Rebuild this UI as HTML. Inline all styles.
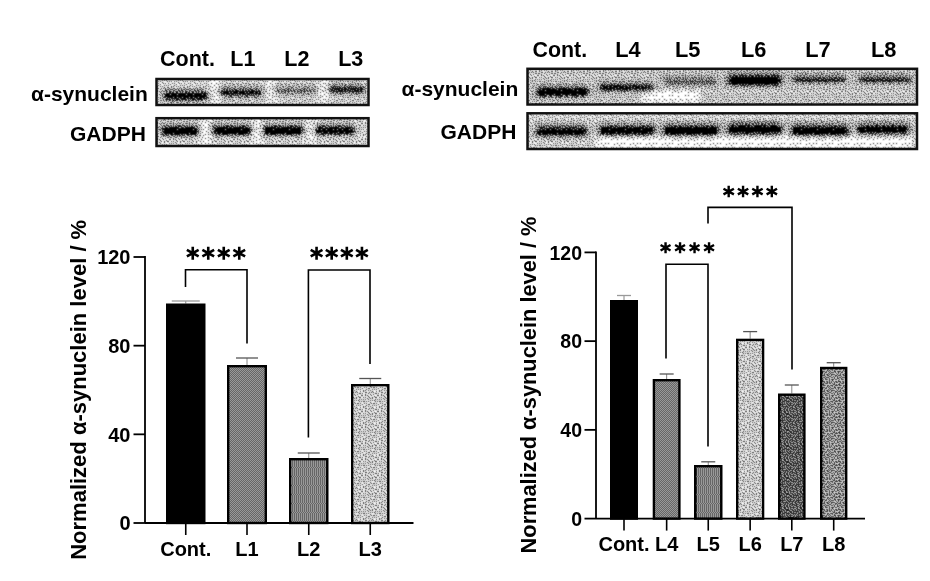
<!DOCTYPE html>
<html><head><meta charset="utf-8"><style>
html,body{margin:0;padding:0;background:#fff;width:930px;height:581px;overflow:hidden}
svg{display:block;font-family:'Liberation Sans',sans-serif;font-weight:bold;will-change:transform}
</style></head><body>
<svg width="930" height="581" viewBox="0 0 930 581">
<defs><pattern id="diag50" width="2" height="2" patternUnits="userSpaceOnUse"><rect width="2" height="2" fill="#fff"/><path d="M0 0h1v1h-1zM1 1h1v1h-1z" fill="#000"/></pattern><pattern id="diag40" width="4" height="4" patternUnits="userSpaceOnUse"><rect width="4" height="4" fill="#fff"/><path d="M0 0h1v1h-1zM1 0h1v1h-1zM2 1h1v1h-1zM3 1h1v1h-1zM0 2h1v1h-1zM1 2h1v1h-1zM2 3h1v1h-1zM3 3h1v1h-1z" fill="#000"/></pattern><pattern id="diag60" width="3" height="3" patternUnits="userSpaceOnUse"><rect width="3" height="3" fill="#fff"/><path d="M0 0h1v1h-1zM1 0h1v1h-1zM1 1h1v1h-1zM2 1h1v1h-1zM0 2h1v1h-1zM2 2h1v1h-1z" fill="#000"/></pattern><pattern id="dots25" width="2" height="2" patternUnits="userSpaceOnUse"><rect width="2" height="2" fill="#fff"/><path d="M0 0h1v1h-1z" fill="#000"/></pattern><pattern id="blotdots" width="8" height="8" patternUnits="userSpaceOnUse"><rect width="8" height="8" fill="#fff"/><path d="M1 0h1v1h-1zM5 0h1v1h-1zM6 0h1v1h-1zM4 1h1v1h-1zM5 1h1v1h-1zM0 2h1v1h-1zM1 2h1v1h-1zM3 2h1v1h-1zM4 2h1v1h-1zM6 2h1v1h-1zM7 2h1v1h-1zM3 3h1v1h-1zM6 3h1v1h-1zM7 3h1v1h-1zM0 4h1v1h-1zM3 4h1v1h-1zM7 4h1v1h-1zM6 5h1v1h-1zM4 6h1v1h-1zM6 6h1v1h-1zM7 6h1v1h-1zM1 7h1v1h-1zM5 7h1v1h-1zM7 7h1v1h-1z" fill="#000"/></pattern><pattern id="vstr" width="2" height="9" patternUnits="userSpaceOnUse"><rect width="2" height="9" fill="#fff"/><path d="M0 0h1v1h-1zM0 1h1v1h-1zM0 2h1v1h-1zM0 3h1v1h-1zM0 4h1v1h-1zM0 5h1v1h-1zM0 6h1v1h-1zM0 7h1v1h-1zM1 8h1v1h-1z" fill="#000"/></pattern><pattern id="bn" width="16" height="16" patternUnits="userSpaceOnUse"><rect x="0" y="0" width="1" height="1" fill="rgb(100,100,100)"/><rect x="1" y="0" width="1" height="1" fill="rgb(150,150,150)"/><rect x="2" y="0" width="1" height="1" fill="rgb(234,234,234)"/><rect x="3" y="0" width="1" height="1" fill="rgb(82,82,82)"/><rect x="4" y="0" width="1" height="1" fill="rgb(218,218,218)"/><rect x="5" y="0" width="1" height="1" fill="rgb(64,64,64)"/><rect x="6" y="0" width="1" height="1" fill="rgb(248,248,248)"/><rect x="7" y="0" width="1" height="1" fill="rgb(140,140,140)"/><rect x="8" y="0" width="1" height="1" fill="rgb(52,52,52)"/><rect x="9" y="0" width="1" height="1" fill="rgb(98,98,98)"/><rect x="10" y="0" width="1" height="1" fill="rgb(68,68,68)"/><rect x="11" y="0" width="1" height="1" fill="rgb(34,34,34)"/><rect x="12" y="0" width="1" height="1" fill="rgb(122,122,122)"/><rect x="13" y="0" width="1" height="1" fill="rgb(58,58,58)"/><rect x="14" y="0" width="1" height="1" fill="rgb(134,134,134)"/><rect x="15" y="0" width="1" height="1" fill="rgb(36,36,36)"/><rect x="0" y="1" width="1" height="1" fill="rgb(226,226,226)"/><rect x="1" y="1" width="1" height="1" fill="rgb(2,2,2)"/><rect x="2" y="1" width="1" height="1" fill="rgb(114,114,114)"/><rect x="3" y="1" width="1" height="1" fill="rgb(140,140,140)"/><rect x="4" y="1" width="1" height="1" fill="rgb(190,190,190)"/><rect x="5" y="1" width="1" height="1" fill="rgb(166,166,166)"/><rect x="6" y="1" width="1" height="1" fill="rgb(6,6,6)"/><rect x="7" y="1" width="1" height="1" fill="rgb(212,212,212)"/><rect x="8" y="1" width="1" height="1" fill="rgb(178,178,178)"/><rect x="9" y="1" width="1" height="1" fill="rgb(220,220,220)"/><rect x="10" y="1" width="1" height="1" fill="rgb(136,136,136)"/><rect x="11" y="1" width="1" height="1" fill="rgb(238,238,238)"/><rect x="12" y="1" width="1" height="1" fill="rgb(196,196,196)"/><rect x="13" y="1" width="1" height="1" fill="rgb(10,10,10)"/><rect x="14" y="1" width="1" height="1" fill="rgb(216,216,216)"/><rect x="15" y="1" width="1" height="1" fill="rgb(168,168,168)"/><rect x="0" y="2" width="1" height="1" fill="rgb(186,186,186)"/><rect x="1" y="2" width="1" height="1" fill="rgb(52,52,52)"/><rect x="2" y="2" width="1" height="1" fill="rgb(212,212,212)"/><rect x="3" y="2" width="1" height="1" fill="rgb(28,28,28)"/><rect x="4" y="2" width="1" height="1" fill="rgb(102,102,102)"/><rect x="5" y="2" width="1" height="1" fill="rgb(44,44,44)"/><rect x="6" y="2" width="1" height="1" fill="rgb(120,120,120)"/><rect x="7" y="2" width="1" height="1" fill="rgb(80,80,80)"/><rect x="8" y="2" width="1" height="1" fill="rgb(38,38,38)"/><rect x="9" y="2" width="1" height="1" fill="rgb(118,118,118)"/><rect x="10" y="2" width="1" height="1" fill="rgb(18,18,18)"/><rect x="11" y="2" width="1" height="1" fill="rgb(174,174,174)"/><rect x="12" y="2" width="1" height="1" fill="rgb(84,84,84)"/><rect x="13" y="2" width="1" height="1" fill="rgb(150,150,150)"/><rect x="14" y="2" width="1" height="1" fill="rgb(110,110,110)"/><rect x="15" y="2" width="1" height="1" fill="rgb(70,70,70)"/><rect x="0" y="3" width="1" height="1" fill="rgb(130,130,130)"/><rect x="1" y="3" width="1" height="1" fill="rgb(90,90,90)"/><rect x="2" y="3" width="1" height="1" fill="rgb(154,154,154)"/><rect x="3" y="3" width="1" height="1" fill="rgb(252,252,252)"/><rect x="4" y="3" width="1" height="1" fill="rgb(72,72,72)"/><rect x="5" y="3" width="1" height="1" fill="rgb(228,228,228)"/><rect x="6" y="3" width="1" height="1" fill="rgb(198,198,198)"/><rect x="7" y="3" width="1" height="1" fill="rgb(146,146,146)"/><rect x="8" y="3" width="1" height="1" fill="rgb(254,254,254)"/><rect x="9" y="3" width="1" height="1" fill="rgb(92,92,92)"/><rect x="10" y="3" width="1" height="1" fill="rgb(158,158,158)"/><rect x="11" y="3" width="1" height="1" fill="rgb(60,60,60)"/><rect x="12" y="3" width="1" height="1" fill="rgb(222,222,222)"/><rect x="13" y="3" width="1" height="1" fill="rgb(44,44,44)"/><rect x="14" y="3" width="1" height="1" fill="rgb(250,250,250)"/><rect x="15" y="3" width="1" height="1" fill="rgb(22,22,22)"/><rect x="0" y="4" width="1" height="1" fill="rgb(240,240,240)"/><rect x="1" y="4" width="1" height="1" fill="rgb(200,200,200)"/><rect x="2" y="4" width="1" height="1" fill="rgb(16,16,16)"/><rect x="3" y="4" width="1" height="1" fill="rgb(174,174,174)"/><rect x="4" y="4" width="1" height="1" fill="rgb(134,134,134)"/><rect x="5" y="4" width="1" height="1" fill="rgb(24,24,24)"/><rect x="6" y="4" width="1" height="1" fill="rgb(162,162,162)"/><rect x="7" y="4" width="1" height="1" fill="rgb(58,58,58)"/><rect x="8" y="4" width="1" height="1" fill="rgb(10,10,10)"/><rect x="9" y="4" width="1" height="1" fill="rgb(192,192,192)"/><rect x="10" y="4" width="1" height="1" fill="rgb(232,232,232)"/><rect x="11" y="4" width="1" height="1" fill="rgb(26,26,26)"/><rect x="12" y="4" width="1" height="1" fill="rgb(126,126,126)"/><rect x="13" y="4" width="1" height="1" fill="rgb(186,186,186)"/><rect x="14" y="4" width="1" height="1" fill="rgb(94,94,94)"/><rect x="15" y="4" width="1" height="1" fill="rgb(160,160,160)"/><rect x="0" y="5" width="1" height="1" fill="rgb(40,40,40)"/><rect x="1" y="5" width="1" height="1" fill="rgb(78,78,78)"/><rect x="2" y="5" width="1" height="1" fill="rgb(112,112,112)"/><rect x="3" y="5" width="1" height="1" fill="rgb(56,56,56)"/><rect x="4" y="5" width="1" height="1" fill="rgb(208,208,208)"/><rect x="5" y="5" width="1" height="1" fill="rgb(96,96,96)"/><rect x="6" y="5" width="1" height="1" fill="rgb(236,236,236)"/><rect x="7" y="5" width="1" height="1" fill="rgb(110,110,110)"/><rect x="8" y="5" width="1" height="1" fill="rgb(216,216,216)"/><rect x="9" y="5" width="1" height="1" fill="rgb(130,130,130)"/><rect x="10" y="5" width="1" height="1" fill="rgb(72,72,72)"/><rect x="11" y="5" width="1" height="1" fill="rgb(106,106,106)"/><rect x="12" y="5" width="1" height="1" fill="rgb(164,164,164)"/><rect x="13" y="5" width="1" height="1" fill="rgb(4,4,4)"/><rect x="14" y="5" width="1" height="1" fill="rgb(204,204,204)"/><rect x="15" y="5" width="1" height="1" fill="rgb(62,62,62)"/><rect x="0" y="6" width="1" height="1" fill="rgb(222,222,222)"/><rect x="1" y="6" width="1" height="1" fill="rgb(182,182,182)"/><rect x="2" y="6" width="1" height="1" fill="rgb(232,232,232)"/><rect x="3" y="6" width="1" height="1" fill="rgb(126,126,126)"/><rect x="4" y="6" width="1" height="1" fill="rgb(4,4,4)"/><rect x="5" y="6" width="1" height="1" fill="rgb(180,180,180)"/><rect x="6" y="6" width="1" height="1" fill="rgb(74,74,74)"/><rect x="7" y="6" width="1" height="1" fill="rgb(32,32,32)"/><rect x="8" y="6" width="1" height="1" fill="rgb(154,154,154)"/><rect x="9" y="6" width="1" height="1" fill="rgb(46,46,46)"/><rect x="10" y="6" width="1" height="1" fill="rgb(180,180,180)"/><rect x="11" y="6" width="1" height="1" fill="rgb(208,208,208)"/><rect x="12" y="6" width="1" height="1" fill="rgb(54,54,54)"/><rect x="13" y="6" width="1" height="1" fill="rgb(236,236,236)"/><rect x="14" y="6" width="1" height="1" fill="rgb(118,118,118)"/><rect x="15" y="6" width="1" height="1" fill="rgb(144,144,144)"/><rect x="0" y="7" width="1" height="1" fill="rgb(14,14,14)"/><rect x="1" y="7" width="1" height="1" fill="rgb(102,102,102)"/><rect x="2" y="7" width="1" height="1" fill="rgb(32,32,32)"/><rect x="3" y="7" width="1" height="1" fill="rgb(152,152,152)"/><rect x="4" y="7" width="1" height="1" fill="rgb(248,248,248)"/><rect x="5" y="7" width="1" height="1" fill="rgb(48,48,48)"/><rect x="6" y="7" width="1" height="1" fill="rgb(142,142,142)"/><rect x="7" y="7" width="1" height="1" fill="rgb(192,192,192)"/><rect x="8" y="7" width="1" height="1" fill="rgb(242,242,242)"/><rect x="9" y="7" width="1" height="1" fill="rgb(86,86,86)"/><rect x="10" y="7" width="1" height="1" fill="rgb(14,14,14)"/><rect x="11" y="7" width="1" height="1" fill="rgb(250,250,250)"/><rect x="12" y="7" width="1" height="1" fill="rgb(142,142,142)"/><rect x="13" y="7" width="1" height="1" fill="rgb(76,76,76)"/><rect x="14" y="7" width="1" height="1" fill="rgb(30,30,30)"/><rect x="15" y="7" width="1" height="1" fill="rgb(170,170,170)"/><rect x="0" y="8" width="1" height="1" fill="rgb(132,132,132)"/><rect x="1" y="8" width="1" height="1" fill="rgb(210,210,210)"/><rect x="2" y="8" width="1" height="1" fill="rgb(68,68,68)"/><rect x="3" y="8" width="1" height="1" fill="rgb(196,196,196)"/><rect x="4" y="8" width="1" height="1" fill="rgb(86,86,86)"/><rect x="5" y="8" width="1" height="1" fill="rgb(214,214,214)"/><rect x="6" y="8" width="1" height="1" fill="rgb(120,120,120)"/><rect x="7" y="8" width="1" height="1" fill="rgb(8,8,8)"/><rect x="8" y="8" width="1" height="1" fill="rgb(104,104,104)"/><rect x="9" y="8" width="1" height="1" fill="rgb(166,166,166)"/><rect x="10" y="8" width="1" height="1" fill="rgb(124,124,124)"/><rect x="11" y="8" width="1" height="1" fill="rgb(38,38,38)"/><rect x="12" y="8" width="1" height="1" fill="rgb(98,98,98)"/><rect x="13" y="8" width="1" height="1" fill="rgb(198,198,198)"/><rect x="14" y="8" width="1" height="1" fill="rgb(228,228,228)"/><rect x="15" y="8" width="1" height="1" fill="rgb(88,88,88)"/><rect x="0" y="9" width="1" height="1" fill="rgb(252,252,252)"/><rect x="1" y="9" width="1" height="1" fill="rgb(50,50,50)"/><rect x="2" y="9" width="1" height="1" fill="rgb(164,164,164)"/><rect x="3" y="9" width="1" height="1" fill="rgb(108,108,108)"/><rect x="4" y="9" width="1" height="1" fill="rgb(20,20,20)"/><rect x="5" y="9" width="1" height="1" fill="rgb(172,172,172)"/><rect x="6" y="9" width="1" height="1" fill="rgb(66,66,66)"/><rect x="7" y="9" width="1" height="1" fill="rgb(224,224,224)"/><rect x="8" y="9" width="1" height="1" fill="rgb(200,200,200)"/><rect x="9" y="9" width="1" height="1" fill="rgb(54,54,54)"/><rect x="10" y="9" width="1" height="1" fill="rgb(230,230,230)"/><rect x="11" y="9" width="1" height="1" fill="rgb(190,190,190)"/><rect x="12" y="9" width="1" height="1" fill="rgb(156,156,156)"/><rect x="13" y="9" width="1" height="1" fill="rgb(8,8,8)"/><rect x="14" y="9" width="1" height="1" fill="rgb(60,60,60)"/><rect x="15" y="9" width="1" height="1" fill="rgb(176,176,176)"/><rect x="0" y="10" width="1" height="1" fill="rgb(114,114,114)"/><rect x="1" y="10" width="1" height="1" fill="rgb(0,0,0)"/><rect x="2" y="10" width="1" height="1" fill="rgb(220,220,220)"/><rect x="3" y="10" width="1" height="1" fill="rgb(138,138,138)"/><rect x="4" y="10" width="1" height="1" fill="rgb(40,40,40)"/><rect x="5" y="10" width="1" height="1" fill="rgb(230,230,230)"/><rect x="6" y="10" width="1" height="1" fill="rgb(156,156,156)"/><rect x="7" y="10" width="1" height="1" fill="rgb(30,30,30)"/><rect x="8" y="10" width="1" height="1" fill="rgb(82,82,82)"/><rect x="9" y="10" width="1" height="1" fill="rgb(146,146,146)"/><rect x="10" y="10" width="1" height="1" fill="rgb(20,20,20)"/><rect x="11" y="10" width="1" height="1" fill="rgb(74,74,74)"/><rect x="12" y="10" width="1" height="1" fill="rgb(112,112,112)"/><rect x="13" y="10" width="1" height="1" fill="rgb(244,244,244)"/><rect x="14" y="10" width="1" height="1" fill="rgb(138,138,138)"/><rect x="15" y="10" width="1" height="1" fill="rgb(36,36,36)"/><rect x="0" y="11" width="1" height="1" fill="rgb(148,148,148)"/><rect x="1" y="11" width="1" height="1" fill="rgb(182,182,182)"/><rect x="2" y="11" width="1" height="1" fill="rgb(78,78,78)"/><rect x="3" y="11" width="1" height="1" fill="rgb(246,246,246)"/><rect x="4" y="11" width="1" height="1" fill="rgb(188,188,188)"/><rect x="5" y="11" width="1" height="1" fill="rgb(88,88,88)"/><rect x="6" y="11" width="1" height="1" fill="rgb(124,124,124)"/><rect x="7" y="11" width="1" height="1" fill="rgb(184,184,184)"/><rect x="8" y="11" width="1" height="1" fill="rgb(108,108,108)"/><rect x="9" y="11" width="1" height="1" fill="rgb(254,254,254)"/><rect x="10" y="11" width="1" height="1" fill="rgb(206,206,206)"/><rect x="11" y="11" width="1" height="1" fill="rgb(168,168,168)"/><rect x="12" y="11" width="1" height="1" fill="rgb(48,48,48)"/><rect x="13" y="11" width="1" height="1" fill="rgb(214,214,214)"/><rect x="14" y="11" width="1" height="1" fill="rgb(90,90,90)"/><rect x="15" y="11" width="1" height="1" fill="rgb(202,202,202)"/><rect x="0" y="12" width="1" height="1" fill="rgb(240,240,240)"/><rect x="1" y="12" width="1" height="1" fill="rgb(100,100,100)"/><rect x="2" y="12" width="1" height="1" fill="rgb(26,26,26)"/><rect x="3" y="12" width="1" height="1" fill="rgb(56,56,56)"/><rect x="4" y="12" width="1" height="1" fill="rgb(116,116,116)"/><rect x="5" y="12" width="1" height="1" fill="rgb(6,6,6)"/><rect x="6" y="12" width="1" height="1" fill="rgb(242,242,242)"/><rect x="7" y="12" width="1" height="1" fill="rgb(50,50,50)"/><rect x="8" y="12" width="1" height="1" fill="rgb(16,16,16)"/><rect x="9" y="12" width="1" height="1" fill="rgb(136,136,136)"/><rect x="10" y="12" width="1" height="1" fill="rgb(92,92,92)"/><rect x="11" y="12" width="1" height="1" fill="rgb(28,28,28)"/><rect x="12" y="12" width="1" height="1" fill="rgb(128,128,128)"/><rect x="13" y="12" width="1" height="1" fill="rgb(178,178,178)"/><rect x="14" y="12" width="1" height="1" fill="rgb(12,12,12)"/><rect x="15" y="12" width="1" height="1" fill="rgb(66,66,66)"/><rect x="0" y="13" width="1" height="1" fill="rgb(46,46,46)"/><rect x="1" y="13" width="1" height="1" fill="rgb(218,218,218)"/><rect x="2" y="13" width="1" height="1" fill="rgb(132,132,132)"/><rect x="3" y="13" width="1" height="1" fill="rgb(158,158,158)"/><rect x="4" y="13" width="1" height="1" fill="rgb(210,210,210)"/><rect x="5" y="13" width="1" height="1" fill="rgb(70,70,70)"/><rect x="6" y="13" width="1" height="1" fill="rgb(148,148,148)"/><rect x="7" y="13" width="1" height="1" fill="rgb(202,202,202)"/><rect x="8" y="13" width="1" height="1" fill="rgb(224,224,224)"/><rect x="9" y="13" width="1" height="1" fill="rgb(62,62,62)"/><rect x="10" y="13" width="1" height="1" fill="rgb(188,188,188)"/><rect x="11" y="13" width="1" height="1" fill="rgb(234,234,234)"/><rect x="12" y="13" width="1" height="1" fill="rgb(76,76,76)"/><rect x="13" y="13" width="1" height="1" fill="rgb(226,226,226)"/><rect x="14" y="13" width="1" height="1" fill="rgb(106,106,106)"/><rect x="15" y="13" width="1" height="1" fill="rgb(162,162,162)"/><rect x="0" y="14" width="1" height="1" fill="rgb(122,122,122)"/><rect x="1" y="14" width="1" height="1" fill="rgb(12,12,12)"/><rect x="2" y="14" width="1" height="1" fill="rgb(194,194,194)"/><rect x="3" y="14" width="1" height="1" fill="rgb(94,94,94)"/><rect x="4" y="14" width="1" height="1" fill="rgb(238,238,238)"/><rect x="5" y="14" width="1" height="1" fill="rgb(176,176,176)"/><rect x="6" y="14" width="1" height="1" fill="rgb(34,34,34)"/><rect x="7" y="14" width="1" height="1" fill="rgb(84,84,84)"/><rect x="8" y="14" width="1" height="1" fill="rgb(160,160,160)"/><rect x="9" y="14" width="1" height="1" fill="rgb(116,116,116)"/><rect x="10" y="14" width="1" height="1" fill="rgb(2,2,2)"/><rect x="11" y="14" width="1" height="1" fill="rgb(144,144,144)"/><rect x="12" y="14" width="1" height="1" fill="rgb(42,42,42)"/><rect x="13" y="14" width="1" height="1" fill="rgb(152,152,152)"/><rect x="14" y="14" width="1" height="1" fill="rgb(22,22,22)"/><rect x="15" y="14" width="1" height="1" fill="rgb(204,204,204)"/><rect x="0" y="15" width="1" height="1" fill="rgb(256,256,256)"/><rect x="1" y="15" width="1" height="1" fill="rgb(64,64,64)"/><rect x="2" y="15" width="1" height="1" fill="rgb(172,172,172)"/><rect x="3" y="15" width="1" height="1" fill="rgb(42,42,42)"/><rect x="4" y="15" width="1" height="1" fill="rgb(18,18,18)"/><rect x="5" y="15" width="1" height="1" fill="rgb(128,128,128)"/><rect x="6" y="15" width="1" height="1" fill="rgb(104,104,104)"/><rect x="7" y="15" width="1" height="1" fill="rgb(194,194,194)"/><rect x="8" y="15" width="1" height="1" fill="rgb(24,24,24)"/><rect x="9" y="15" width="1" height="1" fill="rgb(244,244,244)"/><rect x="10" y="15" width="1" height="1" fill="rgb(170,170,170)"/><rect x="11" y="15" width="1" height="1" fill="rgb(206,206,206)"/><rect x="12" y="15" width="1" height="1" fill="rgb(96,96,96)"/><rect x="13" y="15" width="1" height="1" fill="rgb(246,246,246)"/><rect x="14" y="15" width="1" height="1" fill="rgb(184,184,184)"/><rect x="15" y="15" width="1" height="1" fill="rgb(80,80,80)"/></pattern><rect id="bnrect" x="0" y="0" width="930" height="581" fill="url(#bn)"/><pattern id="bay" width="8" height="8" patternUnits="userSpaceOnUse"><rect x="0" y="0" width="1" height="1" fill="rgb(2,2,2)"/><rect x="1" y="0" width="1" height="1" fill="rgb(130,130,130)"/><rect x="2" y="0" width="1" height="1" fill="rgb(34,34,34)"/><rect x="3" y="0" width="1" height="1" fill="rgb(162,162,162)"/><rect x="4" y="0" width="1" height="1" fill="rgb(10,10,10)"/><rect x="5" y="0" width="1" height="1" fill="rgb(138,138,138)"/><rect x="6" y="0" width="1" height="1" fill="rgb(42,42,42)"/><rect x="7" y="0" width="1" height="1" fill="rgb(170,170,170)"/><rect x="0" y="1" width="1" height="1" fill="rgb(194,194,194)"/><rect x="1" y="1" width="1" height="1" fill="rgb(66,66,66)"/><rect x="2" y="1" width="1" height="1" fill="rgb(226,226,226)"/><rect x="3" y="1" width="1" height="1" fill="rgb(98,98,98)"/><rect x="4" y="1" width="1" height="1" fill="rgb(202,202,202)"/><rect x="5" y="1" width="1" height="1" fill="rgb(74,74,74)"/><rect x="6" y="1" width="1" height="1" fill="rgb(234,234,234)"/><rect x="7" y="1" width="1" height="1" fill="rgb(106,106,106)"/><rect x="0" y="2" width="1" height="1" fill="rgb(50,50,50)"/><rect x="1" y="2" width="1" height="1" fill="rgb(178,178,178)"/><rect x="2" y="2" width="1" height="1" fill="rgb(18,18,18)"/><rect x="3" y="2" width="1" height="1" fill="rgb(146,146,146)"/><rect x="4" y="2" width="1" height="1" fill="rgb(58,58,58)"/><rect x="5" y="2" width="1" height="1" fill="rgb(186,186,186)"/><rect x="6" y="2" width="1" height="1" fill="rgb(26,26,26)"/><rect x="7" y="2" width="1" height="1" fill="rgb(154,154,154)"/><rect x="0" y="3" width="1" height="1" fill="rgb(242,242,242)"/><rect x="1" y="3" width="1" height="1" fill="rgb(114,114,114)"/><rect x="2" y="3" width="1" height="1" fill="rgb(210,210,210)"/><rect x="3" y="3" width="1" height="1" fill="rgb(82,82,82)"/><rect x="4" y="3" width="1" height="1" fill="rgb(250,250,250)"/><rect x="5" y="3" width="1" height="1" fill="rgb(122,122,122)"/><rect x="6" y="3" width="1" height="1" fill="rgb(218,218,218)"/><rect x="7" y="3" width="1" height="1" fill="rgb(90,90,90)"/><rect x="0" y="4" width="1" height="1" fill="rgb(14,14,14)"/><rect x="1" y="4" width="1" height="1" fill="rgb(142,142,142)"/><rect x="2" y="4" width="1" height="1" fill="rgb(46,46,46)"/><rect x="3" y="4" width="1" height="1" fill="rgb(174,174,174)"/><rect x="4" y="4" width="1" height="1" fill="rgb(6,6,6)"/><rect x="5" y="4" width="1" height="1" fill="rgb(134,134,134)"/><rect x="6" y="4" width="1" height="1" fill="rgb(38,38,38)"/><rect x="7" y="4" width="1" height="1" fill="rgb(166,166,166)"/><rect x="0" y="5" width="1" height="1" fill="rgb(206,206,206)"/><rect x="1" y="5" width="1" height="1" fill="rgb(78,78,78)"/><rect x="2" y="5" width="1" height="1" fill="rgb(238,238,238)"/><rect x="3" y="5" width="1" height="1" fill="rgb(110,110,110)"/><rect x="4" y="5" width="1" height="1" fill="rgb(198,198,198)"/><rect x="5" y="5" width="1" height="1" fill="rgb(70,70,70)"/><rect x="6" y="5" width="1" height="1" fill="rgb(230,230,230)"/><rect x="7" y="5" width="1" height="1" fill="rgb(102,102,102)"/><rect x="0" y="6" width="1" height="1" fill="rgb(62,62,62)"/><rect x="1" y="6" width="1" height="1" fill="rgb(190,190,190)"/><rect x="2" y="6" width="1" height="1" fill="rgb(30,30,30)"/><rect x="3" y="6" width="1" height="1" fill="rgb(158,158,158)"/><rect x="4" y="6" width="1" height="1" fill="rgb(54,54,54)"/><rect x="5" y="6" width="1" height="1" fill="rgb(182,182,182)"/><rect x="6" y="6" width="1" height="1" fill="rgb(22,22,22)"/><rect x="7" y="6" width="1" height="1" fill="rgb(150,150,150)"/><rect x="0" y="7" width="1" height="1" fill="rgb(254,254,254)"/><rect x="1" y="7" width="1" height="1" fill="rgb(126,126,126)"/><rect x="2" y="7" width="1" height="1" fill="rgb(222,222,222)"/><rect x="3" y="7" width="1" height="1" fill="rgb(94,94,94)"/><rect x="4" y="7" width="1" height="1" fill="rgb(246,246,246)"/><rect x="5" y="7" width="1" height="1" fill="rgb(118,118,118)"/><rect x="6" y="7" width="1" height="1" fill="rgb(214,214,214)"/><rect x="7" y="7" width="1" height="1" fill="rgb(86,86,86)"/></pattern><rect id="bayrect" x="0" y="0" width="930" height="581" fill="url(#bay)"/>
<filter id="soft" x="0" y="0" width="100%" height="100%" color-interpolation-filters="sRGB"><feConvolveMatrix order="3" kernelMatrix="0.5 1 0.5  1 4 1  0.5 1 0.5" divisor="10" edgeMode="duplicate" preserveAlpha="true"/></filter><filter id="blur" x="-30%" y="-150%" width="160%" height="400%"><feGaussianBlur stdDeviation="1.6 1.0"/></filter><filter id="blur2" x="-50%" y="-100%" width="200%" height="300%"><feGaussianBlur stdDeviation="3 2"/></filter>
<filter id="dith" x="0" y="0" width="100%" height="100%" color-interpolation-filters="sRGB">
  <feImage href="#bnrect" x="0" y="0" width="930" height="581" result="t"/>
  <feColorMatrix in="t" type="matrix" values="0 0 0 0 0  0 0 0 0 0  0 0 0 0 0  1 0 0 0 0" result="ta"/>
  <feColorMatrix in="SourceGraphic" type="matrix" values="0 0 0 0 0  0 0 0 0 0  0 0 0 0 0  0.333 0.333 0.334 0 0" result="sa"/>
  <feComposite in="sa" in2="ta" operator="arithmetic" k1="0" k2="1" k3="-1" k4="0.5" result="sum"/>
  <feComponentTransfer in="sum" result="th"><feFuncA type="discrete" tableValues="0 1"/></feComponentTransfer>
  <feFlood flood-color="#fff" result="white"/>
  <feComposite in="white" in2="th" operator="in" result="wt"/>
  <feFlood flood-color="#000" result="black"/>
  <feMerge result="m"><feMergeNode in="black"/><feMergeNode in="wt"/></feMerge>
  <feConvolveMatrix in="m" order="3" kernelMatrix="0.5 1 0.5  1 4 1  0.5 1 0.5" divisor="10" edgeMode="duplicate" preserveAlpha="true"/>
</filter>
<filter id="dithb" x="0" y="0" width="100%" height="100%" color-interpolation-filters="sRGB">
  <feImage href="#bayrect" x="0" y="0" width="930" height="581" result="t"/>
  <feColorMatrix in="t" type="matrix" values="0 0 0 0 0  0 0 0 0 0  0 0 0 0 0  1 0 0 0 0" result="ta"/>
  <feColorMatrix in="SourceGraphic" type="matrix" values="0 0 0 0 0  0 0 0 0 0  0 0 0 0 0  0.333 0.333 0.334 0 0" result="sa"/>
  <feComposite in="sa" in2="ta" operator="arithmetic" k1="0" k2="1" k3="-1" k4="0.5" result="sum"/>
  <feComponentTransfer in="sum" result="th"><feFuncA type="discrete" tableValues="0 1"/></feComponentTransfer>
  <feFlood flood-color="#fff" result="white"/>
  <feComposite in="white" in2="th" operator="in" result="wt"/>
  <feFlood flood-color="#000" result="black"/>
  <feMerge result="m"><feMergeNode in="black"/><feMergeNode in="wt"/></feMerge>
  <feConvolveMatrix in="m" order="3" kernelMatrix="0.5 1 0.5  1 4 1  0.5 1 0.5" divisor="10" edgeMode="duplicate" preserveAlpha="true"/>
</filter>
</defs>
<rect width="930" height="581" fill="#fff"/>
<text x="160" y="66" font-size="21.5" text-anchor="start" >Cont.</text><text x="230.3" y="66" font-size="21.5" text-anchor="start" >L1</text><text x="284.3" y="66" font-size="21.5" text-anchor="start" >L2</text><text x="338.2" y="66" font-size="21.5" text-anchor="start" >L3</text><text x="31" y="101" font-size="21" text-anchor="start" >α-synuclein</text><text x="70" y="141" font-size="21" text-anchor="start" >GADPH</text><g filter="url(#dith)"><rect x="156.5" y="79" width="212.0" height="26" fill="#c4c4c4"/><rect x="211" y="80" width="9" height="24" fill="#fff" fill-opacity="0.7" filter="url(#blur2)"/><rect x="267" y="80" width="9" height="24" fill="#fff" fill-opacity="0.6" filter="url(#blur2)"/><rect x="320" y="80" width="9" height="24" fill="#fff" fill-opacity="0.6" filter="url(#blur2)"/><rect x="157" y="80" width="210" height="4" fill="#fff" fill-opacity="0.3" filter="url(#blur2)"/><rect x="162" y="88.5" width="47" height="13" rx="5" fill="#000" fill-opacity="0.350" filter="url(#blur2)"/><rect x="164" y="92.5" width="43" height="7" rx="3.5" fill="#000" fill-opacity="0.918" filter="url(#blur)"/><rect x="219" y="85.5" width="44" height="12" rx="5" fill="#000" fill-opacity="0.300" filter="url(#blur2)"/><rect x="221" y="89.5" width="40" height="6" rx="3.0" fill="#000" fill-opacity="0.864" filter="url(#blur)"/><rect x="273" y="84.0" width="44" height="11" rx="5" fill="#000" fill-opacity="0.200" filter="url(#blur2)"/><rect x="275" y="88.0" width="40" height="5" rx="2.5" fill="#000" fill-opacity="0.324" filter="url(#blur)"/><rect x="328" y="82.5" width="38" height="12" rx="5" fill="#000" fill-opacity="0.300" filter="url(#blur2)"/><rect x="330" y="86.5" width="34" height="6" rx="3.0" fill="#000" fill-opacity="0.756" filter="url(#blur)"/></g><rect x="156.5" y="79" width="212.0" height="26" fill="none" stroke="#111" stroke-width="2.5"/><g filter="url(#dith)"><rect x="156.5" y="118.2" width="212.0" height="27.799999999999997" fill="#c8c8c8"/><rect x="201" y="120" width="9" height="24" fill="#fff" fill-opacity="0.7" filter="url(#blur2)"/><rect x="253" y="120" width="9" height="24" fill="#fff" fill-opacity="0.6" filter="url(#blur2)"/><rect x="306" y="120" width="9" height="24" fill="#fff" fill-opacity="0.6" filter="url(#blur2)"/><rect x="160" y="123.0" width="40" height="14" rx="5" fill="#000" fill-opacity="0.350" filter="url(#blur2)"/><rect x="162" y="127.0" width="36" height="8" rx="4.0" fill="#000" fill-opacity="0.972" filter="url(#blur)"/><rect x="211" y="122.5" width="41" height="14" rx="5" fill="#000" fill-opacity="0.350" filter="url(#blur2)"/><rect x="213" y="126.5" width="37" height="8" rx="4.0" fill="#000" fill-opacity="0.972" filter="url(#blur)"/><rect x="262" y="122.5" width="42" height="14" rx="5" fill="#000" fill-opacity="0.350" filter="url(#blur2)"/><rect x="264" y="126.5" width="38" height="8" rx="4.0" fill="#000" fill-opacity="0.972" filter="url(#blur)"/><rect x="314" y="123.0" width="42" height="13" rx="5" fill="#000" fill-opacity="0.350" filter="url(#blur2)"/><rect x="316" y="127.0" width="38" height="7" rx="3.5" fill="#000" fill-opacity="0.918" filter="url(#blur)"/></g><rect x="156.5" y="118.2" width="212.0" height="27.799999999999997" fill="none" stroke="#111" stroke-width="2.5"/><text x="532.5" y="57" font-size="21.4" text-anchor="start" >Cont.</text><text x="615.2" y="57" font-size="21.8" text-anchor="start" >L4</text><text x="675" y="57" font-size="21.8" text-anchor="start" >L5</text><text x="741" y="57" font-size="21.8" text-anchor="start" >L6</text><text x="805.3" y="57" font-size="21.8" text-anchor="start" >L7</text><text x="871" y="57" font-size="21.8" text-anchor="start" >L8</text><text x="401.5" y="96" font-size="21" text-anchor="start" >α-synuclein</text><text x="440.5" y="138.5" font-size="21" text-anchor="start" >GADPH</text><g filter="url(#dith)"><rect x="527.5" y="68.8" width="389.5" height="35.7" fill="#bdbdbd"/><rect x="643" y="91" width="58" height="11" fill="#fff" fill-opacity="0.85" filter="url(#blur2)"/><rect x="535" y="84.0" width="55" height="14" rx="5" fill="#000" fill-opacity="0.300" filter="url(#blur2)"/><rect x="537" y="88.0" width="51" height="8" rx="4.0" fill="#000" fill-opacity="0.972" filter="url(#blur)"/><rect x="598" y="81.0" width="57" height="11" rx="5" fill="#000" fill-opacity="0.300" filter="url(#blur2)"/><rect x="600" y="85.0" width="53" height="5" rx="2.5" fill="#000" fill-opacity="0.810" filter="url(#blur)"/><rect x="602" y="86.0" width="26" height="4" rx="2.0" fill="#000" fill-opacity="0.432" filter="url(#blur)"/><rect x="662" y="75.0" width="56" height="11" rx="5" fill="#000" fill-opacity="0.250" filter="url(#blur2)"/><rect x="664" y="79.0" width="52" height="5" rx="2.5" fill="#000" fill-opacity="0.324" filter="url(#blur)"/><rect x="726" y="72.0" width="57" height="15" rx="5" fill="#000" fill-opacity="0.350" filter="url(#blur2)"/><rect x="728" y="76.0" width="53" height="9" rx="4.5" fill="#000" fill-opacity="1.000" filter="url(#blur)"/><rect x="791" y="73.0" width="56" height="11" rx="5" fill="#000" fill-opacity="0.250" filter="url(#blur2)"/><rect x="793" y="77.0" width="52" height="5" rx="2.5" fill="#000" fill-opacity="0.702" filter="url(#blur)"/><rect x="857" y="73.0" width="55" height="11" rx="5" fill="#000" fill-opacity="0.250" filter="url(#blur2)"/><rect x="859" y="77.0" width="51" height="5" rx="2.5" fill="#000" fill-opacity="0.702" filter="url(#blur)"/></g><rect x="527.5" y="68.8" width="389.5" height="35.7" fill="none" stroke="#111" stroke-width="2.5"/><g filter="url(#dith)"><rect x="527.5" y="113.3" width="389.5" height="35.7" fill="#c2c2c2"/><rect x="595" y="137" width="318" height="10" fill="#fff" fill-opacity="0.85" filter="url(#blur2)"/><rect x="530" y="114" width="385" height="4" fill="#fff" fill-opacity="0.4" filter="url(#blur2)"/><rect x="535" y="124.0" width="54" height="13" rx="5" fill="#000" fill-opacity="0.450" filter="url(#blur2)"/><rect x="537" y="128.0" width="50" height="7" rx="3.5" fill="#000" fill-opacity="0.972" filter="url(#blur)"/><rect x="598" y="123.0" width="58" height="13" rx="5" fill="#000" fill-opacity="0.450" filter="url(#blur2)"/><rect x="600" y="127.0" width="54" height="7" rx="3.5" fill="#000" fill-opacity="0.972" filter="url(#blur)"/><rect x="662" y="122.5" width="58" height="14" rx="5" fill="#000" fill-opacity="0.450" filter="url(#blur2)"/><rect x="664" y="126.5" width="54" height="8" rx="4.0" fill="#000" fill-opacity="1.000" filter="url(#blur)"/><rect x="726" y="121.5" width="57" height="14" rx="5" fill="#000" fill-opacity="0.450" filter="url(#blur2)"/><rect x="728" y="125.5" width="53" height="8" rx="4.0" fill="#000" fill-opacity="1.000" filter="url(#blur)"/><rect x="790" y="122.5" width="60" height="14" rx="5" fill="#000" fill-opacity="0.450" filter="url(#blur2)"/><rect x="792" y="126.5" width="56" height="8" rx="4.0" fill="#000" fill-opacity="0.972" filter="url(#blur)"/><rect x="856" y="122.0" width="54" height="13" rx="5" fill="#000" fill-opacity="0.450" filter="url(#blur2)"/><rect x="858" y="126.0" width="50" height="7" rx="3.5" fill="#000" fill-opacity="0.972" filter="url(#blur)"/></g><rect x="527.5" y="113.3" width="389.5" height="35.7" fill="none" stroke="#111" stroke-width="2.5"/><line x1="133.5" y1="523.0" x2="145" y2="523.0" stroke="#000" stroke-width="1.8"/><text x="130.5" y="530.3" font-size="20" text-anchor="end">0</text><line x1="133.5" y1="434.3333333333333" x2="145" y2="434.3333333333333" stroke="#000" stroke-width="1.8"/><text x="130.5" y="441.6333333333333" font-size="20" text-anchor="end">40</text><line x1="133.5" y1="345.66666666666663" x2="145" y2="345.66666666666663" stroke="#000" stroke-width="1.8"/><text x="130.5" y="352.96666666666664" font-size="20" text-anchor="end">80</text><line x1="133.5" y1="257.0" x2="145" y2="257.0" stroke="#000" stroke-width="1.8"/><text x="130.5" y="264.3" font-size="20" text-anchor="end">120</text><line x1="145" y1="256.1" x2="145" y2="523" stroke="#000" stroke-width="1.8"/><line x1="145" y1="523" x2="413.5" y2="523" stroke="#000" stroke-width="1.8"/><line x1="185.75" y1="301" x2="185.75" y2="303.5" stroke="#777" stroke-width="0.9"/><line x1="171.75" y1="301" x2="199.75" y2="301" stroke="#999" stroke-width="1.3"/><rect x="167.2" y="304.7" width="37.1" height="218.3" fill="#000" stroke="#000" stroke-width="2.4"/><line x1="185.75" y1="523" x2="185.75" y2="535" stroke="#000" stroke-width="1.6"/><text x="185.75" y="556" font-size="20" text-anchor="middle">Cont.</text><line x1="247.0" y1="358" x2="247.0" y2="365" stroke="#777" stroke-width="0.9"/><line x1="236.0" y1="358" x2="258.0" y2="358" stroke="#555" stroke-width="1.3"/><g filter="url(#dithb)"><rect x="228.2" y="366.2" width="37.6" height="156.8" fill="#808080"/></g><rect x="228.2" y="366.2" width="37.6" height="156.8" fill="none" stroke="#000" stroke-width="2.4"/><line x1="247.0" y1="523" x2="247.0" y2="535" stroke="#000" stroke-width="1.6"/><text x="247.0" y="556" font-size="20" text-anchor="middle">L1</text><line x1="308.75" y1="453" x2="308.75" y2="458" stroke="#777" stroke-width="0.9"/><line x1="297.75" y1="453" x2="319.75" y2="453" stroke="#555" stroke-width="1.3"/><g filter="url(#soft)"><rect x="290.2" y="459.2" width="37.1" height="63.8" fill="url(#vstr)"/></g><rect x="290.2" y="459.2" width="37.1" height="63.8" fill="none" stroke="#000" stroke-width="2.4"/><line x1="308.75" y1="523" x2="308.75" y2="535" stroke="#000" stroke-width="1.6"/><text x="308.75" y="556" font-size="20" text-anchor="middle">L2</text><line x1="370.25" y1="378.5" x2="370.25" y2="384" stroke="#777" stroke-width="0.9"/><line x1="359.25" y1="378.5" x2="381.25" y2="378.5" stroke="#555" stroke-width="1.3"/><g filter="url(#dith)"><rect x="352.2" y="385.2" width="36.1" height="137.8" fill="#c0c0c0"/></g><rect x="352.2" y="385.2" width="36.1" height="137.8" fill="none" stroke="#000" stroke-width="2.4"/><line x1="370.25" y1="523" x2="370.25" y2="535" stroke="#000" stroke-width="1.6"/><text x="370.25" y="556" font-size="20" text-anchor="middle">L3</text><polyline points="185.5,287 185.5,269.8 247,269.8 247,343.6" fill="none" stroke="#000" stroke-width="1.6"/><path d="M192.75 246.73L192.75 259.67M186.87 249.96L198.63 256.44M186.87 256.44L198.63 249.96" stroke="#000" stroke-width="2.6" fill="none" stroke-linecap="butt"/><path d="M208.25 246.73L208.25 259.67M202.37 249.96L214.13 256.44M202.37 256.44L214.13 249.96" stroke="#000" stroke-width="2.6" fill="none" stroke-linecap="butt"/><path d="M223.75 246.73L223.75 259.67M217.87 249.96L229.63 256.44M217.87 256.44L229.63 249.96" stroke="#000" stroke-width="2.6" fill="none" stroke-linecap="butt"/><path d="M239.25 246.73L239.25 259.67M233.37 249.96L245.13 256.44M233.37 256.44L245.13 249.96" stroke="#000" stroke-width="2.6" fill="none" stroke-linecap="butt"/><polyline points="308.4,437.5 308.4,270 370,270 370,364" fill="none" stroke="#000" stroke-width="1.6"/><path d="M316.56 246.73L316.56 259.67M310.68 249.96L322.45 256.44M310.68 256.44L322.45 249.96" stroke="#000" stroke-width="2.6" fill="none" stroke-linecap="butt"/><path d="M331.69 246.73L331.69 259.67M325.80 249.96L337.57 256.44M325.80 256.44L337.57 249.96" stroke="#000" stroke-width="2.6" fill="none" stroke-linecap="butt"/><path d="M346.81 246.73L346.81 259.67M340.93 249.96L352.70 256.44M340.93 256.44L352.70 249.96" stroke="#000" stroke-width="2.6" fill="none" stroke-linecap="butt"/><path d="M361.94 246.73L361.94 259.67M356.05 249.96L367.82 256.44M356.05 256.44L367.82 249.96" stroke="#000" stroke-width="2.6" fill="none" stroke-linecap="butt"/><text x="0" y="0" font-size="22" text-anchor="middle" transform="translate(86,389.8) rotate(-90)">Normalized α-synuclein level / %</text><line x1="584.5" y1="518.6" x2="596" y2="518.6" stroke="#000" stroke-width="1.8"/><text x="582" y="525.9" font-size="19.5" text-anchor="end">0</text><line x1="584.5" y1="429.8666666666667" x2="596" y2="429.8666666666667" stroke="#000" stroke-width="1.8"/><text x="582" y="437.1666666666667" font-size="19.5" text-anchor="end">40</text><line x1="584.5" y1="341.1333333333333" x2="596" y2="341.1333333333333" stroke="#000" stroke-width="1.8"/><text x="582" y="348.43333333333334" font-size="19.5" text-anchor="end">80</text><line x1="584.5" y1="252.39999999999998" x2="596" y2="252.39999999999998" stroke="#000" stroke-width="1.8"/><text x="582" y="259.7" font-size="19.5" text-anchor="end">120</text><line x1="596" y1="251.5" x2="596" y2="518.6" stroke="#000" stroke-width="1.8"/><line x1="596" y1="518.6" x2="865" y2="518.6" stroke="#000" stroke-width="1.8"/><line x1="624.0" y1="295.5" x2="624.0" y2="300" stroke="#777" stroke-width="0.9"/><line x1="617.0" y1="295.5" x2="631.0" y2="295.5" stroke="#999" stroke-width="1.3"/><rect x="611.2" y="301.2" width="25.6" height="217.40000000000003" fill="#000" stroke="#000" stroke-width="2.4"/><line x1="624.0" y1="518.6" x2="624.0" y2="530.6" stroke="#000" stroke-width="1.6"/><text x="624.0" y="551.2" font-size="20" text-anchor="middle">Cont.</text><line x1="666.6500000000001" y1="374" x2="666.6500000000001" y2="379" stroke="#777" stroke-width="0.9"/><line x1="659.6500000000001" y1="374" x2="673.6500000000001" y2="374" stroke="#555" stroke-width="1.3"/><g filter="url(#dithb)"><rect x="653.9000000000001" y="380.2" width="25.49999999999998" height="138.40000000000003" fill="#808080"/></g><rect x="653.9000000000001" y="380.2" width="25.49999999999998" height="138.40000000000003" fill="none" stroke="#000" stroke-width="2.4"/><line x1="666.6500000000001" y1="518.6" x2="666.6500000000001" y2="530.6" stroke="#000" stroke-width="1.6"/><text x="666.6500000000001" y="551.2" font-size="20" text-anchor="middle">L4</text><line x1="708.25" y1="461.8" x2="708.25" y2="465" stroke="#777" stroke-width="0.9"/><line x1="701.25" y1="461.8" x2="715.25" y2="461.8" stroke="#555" stroke-width="1.3"/><g filter="url(#soft)"><rect x="695.2" y="466.2" width="26.1" height="52.40000000000002" fill="url(#vstr)"/></g><rect x="695.2" y="466.2" width="26.1" height="52.40000000000002" fill="none" stroke="#000" stroke-width="2.4"/><line x1="708.25" y1="518.6" x2="708.25" y2="530.6" stroke="#000" stroke-width="1.6"/><text x="708.25" y="551.2" font-size="20" text-anchor="middle">L5</text><line x1="750.15" y1="331.6" x2="750.15" y2="338.7" stroke="#777" stroke-width="0.9"/><line x1="743.15" y1="331.6" x2="757.15" y2="331.6" stroke="#555" stroke-width="1.3"/><g filter="url(#dith)"><rect x="737.2" y="339.9" width="25.899999999999956" height="178.70000000000005" fill="#c0c0c0"/></g><rect x="737.2" y="339.9" width="25.899999999999956" height="178.70000000000005" fill="none" stroke="#000" stroke-width="2.4"/><line x1="750.15" y1="518.6" x2="750.15" y2="530.6" stroke="#000" stroke-width="1.6"/><text x="750.15" y="551.2" font-size="20" text-anchor="middle">L6</text><line x1="791.8" y1="385" x2="791.8" y2="393.5" stroke="#777" stroke-width="0.9"/><line x1="784.8" y1="385" x2="798.8" y2="385" stroke="#555" stroke-width="1.3"/><g filter="url(#dith)"><rect x="779.2" y="394.7" width="25.200000000000024" height="123.90000000000002" fill="#5c5c5c"/></g><rect x="779.2" y="394.7" width="25.200000000000024" height="123.90000000000002" fill="none" stroke="#000" stroke-width="2.4"/><line x1="791.8" y1="518.6" x2="791.8" y2="530.6" stroke="#000" stroke-width="1.6"/><text x="791.8" y="551.2" font-size="20" text-anchor="middle">L7</text><line x1="833.7" y1="362.7" x2="833.7" y2="366.8" stroke="#777" stroke-width="0.9"/><line x1="826.7" y1="362.7" x2="840.7" y2="362.7" stroke="#555" stroke-width="1.3"/><g filter="url(#dith)"><rect x="821.2" y="368.0" width="24.99999999999998" height="150.60000000000002" fill="#8a8a8a"/></g><rect x="821.2" y="368.0" width="24.99999999999998" height="150.60000000000002" fill="none" stroke="#000" stroke-width="2.4"/><line x1="833.7" y1="518.6" x2="833.7" y2="530.6" stroke="#000" stroke-width="1.6"/><text x="833.7" y="551.2" font-size="20" text-anchor="middle">L8</text><polyline points="666,358.5 666,264.2 708,264.2 708,446.6" fill="none" stroke="#000" stroke-width="1.6"/><path d="M665.55 242.32L665.55 253.28M660.57 245.06L670.53 250.54M660.57 250.54L670.53 245.06" stroke="#000" stroke-width="2.4" fill="none" stroke-linecap="butt"/><path d="M680.05 242.32L680.05 253.28M675.07 245.06L685.03 250.54M675.07 250.54L685.03 245.06" stroke="#000" stroke-width="2.4" fill="none" stroke-linecap="butt"/><path d="M694.55 242.32L694.55 253.28M689.57 245.06L699.53 250.54M689.57 250.54L699.53 245.06" stroke="#000" stroke-width="2.4" fill="none" stroke-linecap="butt"/><path d="M709.05 242.32L709.05 253.28M704.07 245.06L714.03 250.54M704.07 250.54L714.03 245.06" stroke="#000" stroke-width="2.4" fill="none" stroke-linecap="butt"/><polyline points="708,223.6 708,207.4 792,207.4 792,369.5" fill="none" stroke="#000" stroke-width="1.6"/><path d="M728.69 185.82L728.69 197.28M723.48 188.69L733.90 194.42M723.48 194.42L733.90 188.69" stroke="#000" stroke-width="2.4" fill="none" stroke-linecap="butt"/><path d="M743.06 185.82L743.06 197.28M737.85 188.69L748.27 194.42M737.85 194.42L748.27 188.69" stroke="#000" stroke-width="2.4" fill="none" stroke-linecap="butt"/><path d="M757.44 185.82L757.44 197.28M752.23 188.69L762.65 194.42M752.23 194.42L762.65 188.69" stroke="#000" stroke-width="2.4" fill="none" stroke-linecap="butt"/><path d="M771.81 185.82L771.81 197.28M766.60 188.69L777.02 194.42M766.60 194.42L777.02 188.69" stroke="#000" stroke-width="2.4" fill="none" stroke-linecap="butt"/><text x="0" y="0" font-size="21.8" text-anchor="middle" transform="translate(536,385) rotate(-90)">Normalized α-synuclein level / %</text>
</svg></body></html>
